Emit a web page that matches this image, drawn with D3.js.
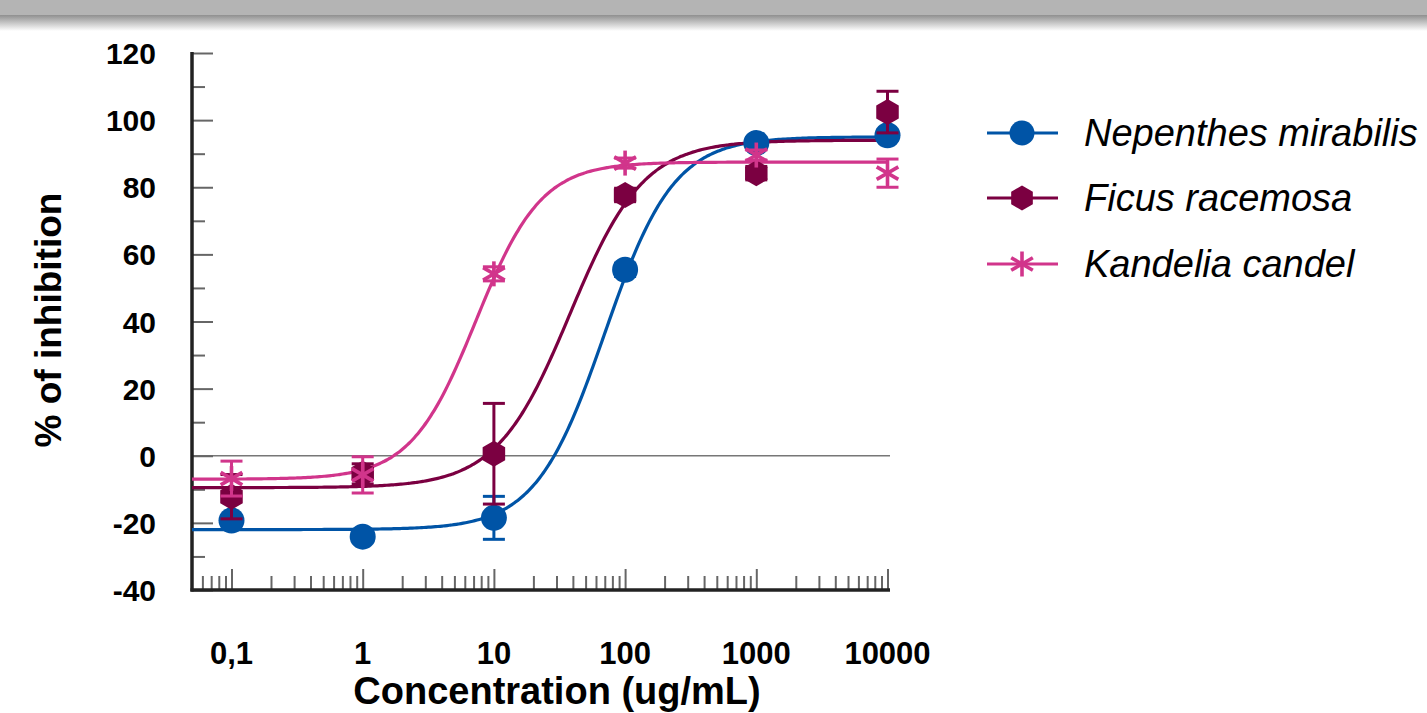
<!DOCTYPE html>
<html>
<head>
<meta charset="utf-8">
<script src="https://cdn.jsdelivr.net/npm/d3@7"></script>
<style>
  body { margin: 0; background: #fff; }
  svg { display: block; font-family: "Liberation Sans", Arial, sans-serif; }
</style>
</head>
<body>
<div id="vis"></div>
<script>
// datos
const concentrations = [0.1, 1, 10, 100, 1000, 10000];
const seriesNames = ["Nepenthes mirabilis", "Ficus racemosa", "Kandelia candel"];
const nepenthesMean = [-19.3, -24.1, -18.5, 55.4, 93.2, 95.5];
const nepenthesErr = [1.5, 1, 6.4, 2, 1.5, 1.5];
const ficusMean = [-12.2, -5.4, 0.6, 77.7, 84.2, 102.4];
const ficusErr = [6.6, 3, 15, 2, 2, 6.2];
const kandeliaMean = [-6.8, -5.7, 54.2, 87.2, 89.6, 84.2];
const kandeliaErr = [5.2, 5.4, 2.1, 1.5, 1.5, 4.2];
// ajuste sigmoidal (bottom, top, EC50, hill)
const nepenthesFit = [-22, 95, 70, 1.65];
const ficusFit = [-9.5, 94, 38, 1.55];
const kandeliaFit = [-7, 87.5, 7.3, 1.75];

const xTickValues = [0.1, 1, 10, 100, 1000, 10000];
const xTickLabels = ["0,1", "1", "10", "100", "1000", "10000"];
const yTickValues = [-40, -20, 0, 20, 40, 60, 80, 100, 120];

const WIDTH = 1427;
const HEIGHT = 713;
const colors = ["#0054a6", "#7b0041", "#d1358b"];
const shapes = ["circle", "hexagon", "star"];

const series = [
  { name: seriesNames[0], mean: nepenthesMean, err: nepenthesErr, fit: nepenthesFit },
  { name: seriesNames[1], mean: ficusMean, err: ficusErr, fit: ficusFit },
  { name: seriesNames[2], mean: kandeliaMean, err: kandeliaErr, fit: kandeliaFit }
];

const SVG = d3.select("#vis").append("svg")
  .attr("width", WIDTH).attr("height", HEIGHT);

const x = d3.scaleLog().domain([0.05, 10000]).range([192, 887.5]);
const y = d3.scaleLinear().domain([-40, 120]).range([590, 53]);

function banner() {
  const defs = SVG.append("defs");
  const grad = defs.append("linearGradient").attr("id", "shade")
    .attr("x1", 0).attr("y1", 0).attr("x2", 0).attr("y2", 1);
  grad.append("stop").attr("offset", 0).attr("stop-color", "#8f8f8f");
  grad.append("stop").attr("offset", 1).attr("stop-color", "#ffffff");
  SVG.append("rect").attr("x", 0).attr("y", 0).attr("width", WIDTH).attr("height", 15)
    .attr("fill", "#b4b4b4");
  SVG.append("rect").attr("x", 0).attr("y", 15).attr("width", WIDTH).attr("height", 16)
    .attr("fill", "url(#shade)");
}

function marker(g, shape, color, r) {
  if (shape === "circle") {
    g.append("circle").attr("r", r).attr("fill", color);
  } else if (shape === "hexagon") {
    const pts = d3.range(6).map(i => {
      const a = Math.PI / 2 + i * Math.PI / 3;
      return [r * Math.cos(a), r * Math.sin(a)];
    });
    g.append("polygon").attr("points", pts.map(p => p.join(",")).join(" ")).attr("fill", color);
  } else {
    [90, 30, 150].forEach(deg => {
      const a = deg * Math.PI / 180;
      g.append("line")
        .attr("x1", -r * Math.cos(a)).attr("y1", -r * Math.sin(a))
        .attr("x2", r * Math.cos(a)).attr("y2", r * Math.sin(a))
        .attr("stroke", color).attr("stroke-width", 3.6);
    });
  }
}

function axes() {
  // linea del cero
  SVG.append("line")
    .attr("x1", x(0.05)).attr("x2", 890).attr("y1", y(0)).attr("y2", y(0))
    .attr("stroke", "#777").attr("stroke-width", 1.6);

  // eje y
  const yMinor = d3.range(-30, 120, 20);
  const gy = SVG.append("g").attr("transform", `translate(${x(0.05)},0)`);
  gy.call(d3.axisRight(y).tickValues(yTickValues).tickSize(21).tickFormat(""));
  gy.append("g").call(d3.axisRight(y).tickValues(yMinor).tickSize(13).tickFormat(""));
  gy.selectAll(".domain").remove();
  gy.selectAll("line").attr("stroke", "#666").attr("stroke-width", 2);

  SVG.selectAll(".ylab").data(yTickValues).join("text")
    .attr("class", "ylab")
    .attr("x", 156).attr("y", d => y(d) + 11)
    .attr("text-anchor", "end")
    .attr("font-size", 30).attr("font-weight", "bold")
    .text(d => d);

  // eje x con ticks menores
  const minor = [];
  for (let e = -2; e < 4; e++) {
    for (let k = 2; k <= 9; k++) {
      const v = k * Math.pow(10, e);
      if (v > 0.05 && v < 10000) minor.push(v);
    }
  }
  const gx = SVG.append("g").attr("transform", `translate(0,${y(-40)})`);
  gx.call(d3.axisTop(x).tickValues(xTickValues).tickSize(21).tickFormat(""));
  gx.append("g").call(d3.axisTop(x).tickValues(minor).tickSize(14).tickFormat(""));
  gx.selectAll(".domain").remove();
  gx.selectAll("line").attr("stroke", "#666").attr("stroke-width", 2);

  SVG.selectAll(".xlab").data(xTickValues).join("text")
    .attr("class", "xlab")
    .attr("x", d => x(d)).attr("y", 664)
    .attr("text-anchor", "middle")
    .attr("font-size", 31).attr("font-weight", "bold")
    .text((d, i) => xTickLabels[i]);

  // lineas de los ejes
  SVG.append("line")
    .attr("x1", x(0.05)).attr("x2", x(0.05)).attr("y1", y(120) - 1).attr("y2", y(-40) + 1.5)
    .attr("stroke", "#222").attr("stroke-width", 3.5);
  SVG.append("line")
    .attr("x1", x(0.05) - 1.5).attr("x2", 890).attr("y1", y(-40)).attr("y2", y(-40))
    .attr("stroke", "#222").attr("stroke-width", 3.5);

  SVG.append("text")
    .attr("transform", `translate(61,320) rotate(-90)`)
    .attr("text-anchor", "middle")
    .attr("font-size", 37).attr("font-weight", "bold")
    .text("% of inhibition");

  SVG.append("text")
    .attr("x", 557).attr("y", 704)
    .attr("text-anchor", "middle")
    .attr("font-size", 38).attr("font-weight", "bold")
    .text("Concentration (ug/mL)");
}

function curves() {
  const xs = d3.range(0, 301).map(i => Math.pow(10, Math.log10(0.05) + i * (Math.log10(10000) - Math.log10(0.05)) / 300));
  const line = d3.line().x(d => x(d[0])).y(d => y(d[1])).curve(d3.curveMonotoneX);
  series.forEach((s, i) => {
    const [bottom, top, ec50, hill] = s.fit;
    const pts = xs.map(c => [c, bottom + (top - bottom) / (1 + Math.pow(ec50 / c, hill))]);
    SVG.append("path").datum(pts)
      .attr("d", line)
      .attr("fill", "none")
      .attr("stroke", colors[i])
      .attr("stroke-width", 3.2);
  });
}

function points() {
  series.forEach((s, i) => {
    const g = SVG.append("g");
    concentrations.forEach((c, j) => {
      const cx = x(c), m = s.mean[j], e = s.err[j];
      g.append("line").attr("x1", cx).attr("x2", cx).attr("y1", y(m + e)).attr("y2", y(m - e))
        .attr("stroke", colors[i]).attr("stroke-width", 3);
      [m + e, m - e].forEach(v => {
        g.append("line").attr("x1", cx - 11).attr("x2", cx + 11).attr("y1", y(v)).attr("y2", y(v))
          .attr("stroke", colors[i]).attr("stroke-width", 3);
      });
      const mg = g.append("g").attr("transform", `translate(${cx},${y(m)})`);
      marker(mg, shapes[i], colors[i], shapes[i] === "star" ? 12.5 : 13);
    });
  });
}

function legend() {
  const rows = [133, 198, 264];
  series.forEach((s, i) => {
    const g = SVG.append("g").attr("transform", `translate(0,${rows[i]})`);
    g.append("line").attr("x1", 987).attr("x2", 1058).attr("y1", 0).attr("y2", 0)
      .attr("stroke", colors[i]).attr("stroke-width", 3.2);
    const mg = g.append("g").attr("transform", "translate(1022,0)");
    marker(mg, shapes[i], colors[i], 12.5);
    g.append("text").attr("x", 1084).attr("y", 13)
      .attr("font-size", 38).attr("font-style", "italic")
      .text(s.name);
  });
}

document.addEventListener("DOMContentLoaded", function() {
  banner();
  axes();
  curves();
  points();
  legend();
});
</script>
</body>
</html>
